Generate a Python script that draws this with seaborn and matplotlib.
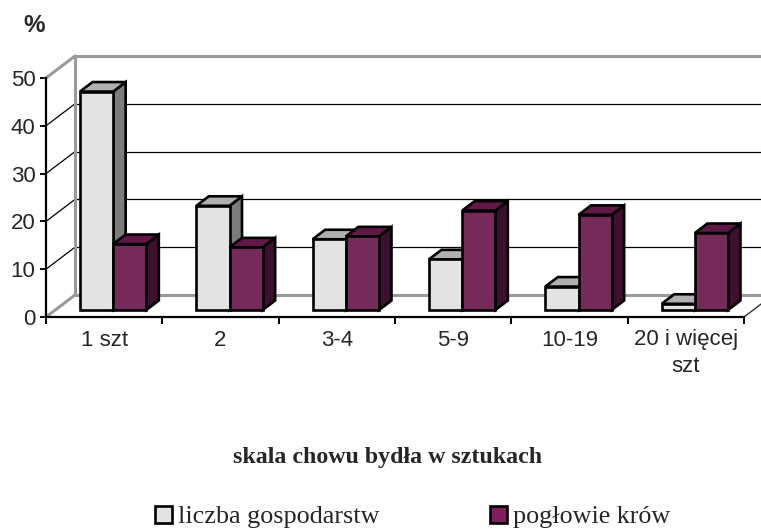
import numpy as np
import pandas as pd
import matplotlib
matplotlib.use("Agg")
import matplotlib.pyplot as plt
import matplotlib.transforms as mtransforms
from matplotlib.patches import Polygon, Patch
import seaborn as sns

# --- data ---
kategorie = ["1 szt", "2", "3-4", "5-9", "10-19", "20 i więcej\nszt"]
serie = ["liczba gospodarstw", "pogłowie krów"]
liczba_gospodarstw = [45.7, 21.8, 14.8, 10.6, 4.9, 1.3]
poglowie_krow = [13.8, 13.1, 15.4, 20.8, 19.9, 16.1]
y_ticks = [0, 10, 20, 30, 40, 50]

front_colors = ["#e3e3e3", "#801f5c"]
top_colors = ["#b0b0b0", "#621846"]
side_colors = ["#7c7c7c", "#3e102f"]

df = pd.DataFrame({
    "kategoria": kategorie * 2,
    "seria": [serie[0]] * len(kategorie) + [serie[1]] * len(kategorie),
    "wartosc": liczba_gospodarstw + poglowie_krow,
})

sns.set_theme(style="white")
plt.rcParams["font.family"] = ["Liberation Sans", "DejaVu Sans"]

W, H = 761, 531
EDGE = 1.9
fig = plt.figure(figsize=(W / 100, H / 100), dpi=100)
# front plane of the pseudo-3D box (pixels): x 46..744, y 78..317 from top
ax = fig.add_axes([46 / W, (H - 317) / H, (744 - 46) / W, (317 - 78) / H])

sns.barplot(data=df, x="kategoria", y="wartosc", hue="seria",
            palette=front_colors, width=0.57, edgecolor="black",
            linewidth=EDGE, legend=False, ax=ax)
ax.set_xlim(-0.5, len(kategorie) - 0.5)
ax.set_ylim(0, 50)

# pixel -> data unit helpers
px_x = (744 - 46) / len(kategorie)
px_y = (317 - 78) / 50.0
wall_dx, wall_dy = 29 / px_x, 22 / px_y
bar_dx, bar_dy = 12.5 / px_x, 9.5 / px_y

# back wall, floor and grid
x0, x1 = -0.5, len(kategorie) - 0.5
wall_kw = dict(color="#9a9a9a", lw=2.2, clip_on=False, zorder=1)
grid_kw = dict(color="black", lw=0.9, clip_on=False, zorder=1)
for v in y_ticks:
    kw = wall_kw if v in (0, 50) else grid_kw
    ax.plot([x0 + wall_dx, x1 + 1], [v + wall_dy] * 2, **kw)
    ax.plot([x0, x0 + wall_dx], [v, v + wall_dy], **kw)
ax.plot([x0 + wall_dx] * 2, [wall_dy, 50 + wall_dy], **wall_kw)
ax.plot([x1, x1 + wall_dx], [0, wall_dy], color="#333333", lw=1.0,
        clip_on=False, zorder=1)

# bars: front faces come from seaborn, depth faces drawn from them
front_tr = mtransforms.offset_copy(ax.transData, fig=fig, x=9, y=7, units="dots")
n = len(kategorie)
bars = list(ax.patches)
for k, p in enumerate(bars):
    j, i = divmod(k, n)
    base = 10 + i * 10 + j * 5
    bx, by = p.get_x(), p.get_y()
    bw, bh = p.get_width(), p.get_height()
    side = Polygon([(bx + bw, by), (bx + bw + bar_dx, by + bar_dy),
                    (bx + bw + bar_dx, by + bh + bar_dy), (bx + bw, by + bh)],
                   closed=True, facecolor=side_colors[j], edgecolor="black",
                   lw=EDGE, joinstyle="miter", transform=front_tr,
                   clip_on=False, zorder=base)
    top = Polygon([(bx, by + bh), (bx + bw, by + bh),
                   (bx + bw + bar_dx, by + bh + bar_dy), (bx + bar_dx, by + bh + bar_dy)],
                  closed=True, facecolor=top_colors[j], edgecolor="black",
                  lw=EDGE, joinstyle="miter", transform=front_tr,
                  clip_on=False, zorder=base + 1)
    ax.add_patch(side)
    ax.add_patch(top)
    p.set_transform(front_tr)
    p.set_clip_on(False)
    p.set_zorder(base + 2)
    p.set_joinstyle("miter")

# axes styling
for s in ("top", "right"):
    ax.spines[s].set_visible(False)
for s in ("left", "bottom"):
    ax.spines[s].set_color("black")
    ax.spines[s].set_linewidth(1.6)
    ax.spines[s].set_zorder(5)

ax.set_yticks(y_ticks)
ax.tick_params(axis="y", direction="out", length=4, width=1.4, color="black",
               labelsize=16, pad=3.5, left=True)
ax.set_xticks(range(n), kategorie)
ax.set_xticks(np.arange(-0.5, n, 1), minor=True)
ax.tick_params(axis="x", which="major", length=0, labelsize=16, pad=9)
ax.tick_params(axis="x", which="minor", direction="out", length=5, width=1.4,
               color="black", bottom=True)
for t in ax.get_xticklabels():
    t.set_linespacing(1.35)
ax.set_xlabel("")
ax.set_ylabel("")

fig.text(34.5 / W, 1 - 26 / H, "%", ha="center", va="center",
         fontsize=17.5, fontweight="bold")
fig.text(388 / W, 1 - 463 / H, "skala chowu bydła w sztukach",
         ha="center", va="baseline", fontsize=17.2, fontweight="bold",
         family=["Liberation Serif", "DejaVu Serif"])

handles = [Patch(facecolor=c, edgecolor="black", lw=EDGE) for c in front_colors]
fig.legend(handles, serie, loc="center left", bbox_to_anchor=(155 / W, 1 - 517 / H),
           ncol=2, frameon=False, borderpad=0, borderaxespad=0,
           handlelength=0.65, handleheight=0.65, handletextpad=0.25,
           columnspacing=4.2,
           prop={"family": ["Liberation Serif", "DejaVu Serif"], "size": 18.8})

fig.savefig("out.png", dpi=100)
